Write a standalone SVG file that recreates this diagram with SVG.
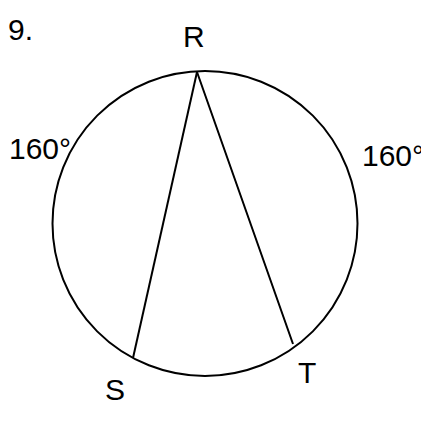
<svg xmlns="http://www.w3.org/2000/svg" width="421" height="424" viewBox="0 0 421 424">
<style>
.t{font-family:"Liberation Sans",Arial,sans-serif;font-size:30px;fill:#000}
.l{stroke:#000;stroke-width:2;fill:none}
</style>
<rect width="421" height="424" fill="#fff"/>
<g id="circle"><circle class="l" cx="205" cy="223.5" r="152.5"/></g>
<g id="connectors">
<line class="l" x1="197" y1="72" x2="133" y2="358"/>
<line class="l" x1="197" y1="72" x2="293" y2="344"/>
</g>
<g id="label-9"><text class="t" x="8" y="40">9.</text></g>
<g id="node-R"><text class="t" x="183" y="47" font-size="26">R</text></g>
<g id="node-S"><text class="t" x="105" y="400" font-size="29">S</text></g>
<g id="node-T"><text class="t" x="298" y="383" font-size="29">T</text></g>
<g id="arc-left"><text class="t" x="9" y="159">160°</text></g>
<g id="arc-right"><text class="t" x="362" y="166">160°</text></g>
</svg>
